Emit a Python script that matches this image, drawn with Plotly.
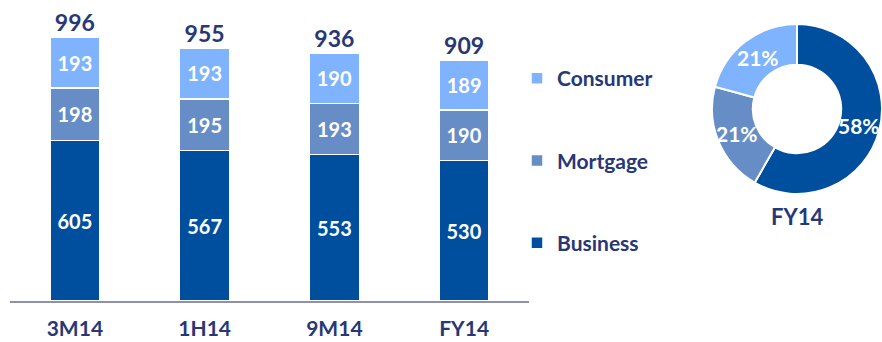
import math
import plotly.graph_objects as go

# Loan book by segment (EUR m)
periods = ["3M14", "1H14", "9M14", "FY14"]
business = [605, 567, 553, 530]
mortgage = [198, 195, 193, 190]
consumer = [193, 193, 190, 189]
totals = [996, 955, 936, 909]

segments = ["Business", "Mortgage", "Consumer"]
fy14_mix = [530, 190, 189]

C_BUSINESS = "#004F9E"
C_MORTGAGE = "#678DC6"
C_CONSUMER = "#7FB3FD"
NAVY = "#283775"
FONT = "Lato"

W, H = 882, 342

fig = go.Figure()

for rank, (name, vals, col) in enumerate([
    ("Business", business, C_BUSINESS),
    ("Mortgage", mortgage, C_MORTGAGE),
    ("Consumer", consumer, C_CONSUMER),
]):
    fig.add_trace(go.Bar(
        name=name, x=periods, y=vals,
        marker=dict(color=col, line=dict(color="white", width=1.5)),
        text=vals, textposition="inside", insidetextanchor="middle",
        textangle=0, constraintext="none",
        textfont=dict(family=FONT, size=20, color="white", weight=700),
        legendgroup=name, legendrank=1000 - rank,
    ))

# Totals above each stack
fig.add_trace(go.Scatter(
    x=periods, y=totals, mode="text", text=totals,
    textposition="top center",
    textfont=dict(family=FONT, size=23, color=NAVY, weight=700),
    showlegend=False, hoverinfo="skip",
))

# FY14 mix donut (pixel box of the pie domain)
PIE_X0, PIE_X1, PIE_Y0, PIE_Y1 = 712, 882, 24, 194
HOLE = 0.52
fig.add_trace(go.Pie(
    labels=segments, values=fy14_mix, hole=HOLE, sort=False,
    direction="clockwise", rotation=0,
    marker=dict(colors=[C_BUSINESS, C_MORTGAGE, C_CONSUMER],
                line=dict(color="white", width=2)),
    textinfo="none",
    domain=dict(x=[PIE_X0 / W, PIE_X1 / W], y=[1 - PIE_Y1 / H, 1 - PIE_Y0 / H]),
    showlegend=False,
))

# Percentage labels at mid-ring on each slice's bisector
cx, cy = (PIE_X0 + PIE_X1) / 2, (PIE_Y0 + PIE_Y1) / 2
r_out = min(PIE_X1 - PIE_X0, PIE_Y1 - PIE_Y0) / 2
r_mid = r_out * (1 + HOLE) / 2
total_mix = sum(fy14_mix)
acc = 0.0
for v in fy14_mix:
    frac = v / total_mix
    ang = 2 * math.pi * (acc + frac / 2)
    acc += frac
    px = cx + r_mid * math.sin(ang)
    py = cy - r_mid * math.cos(ang)
    fig.add_annotation(
        text=f"{round(frac * 100)}%", x=px / W, y=1 - py / H,
        xref="paper", yref="paper", showarrow=False,
        xanchor="center", yanchor="middle",
        font=dict(family=FONT, size=21, color="white", weight=700),
    )

fig.add_annotation(
    text="FY14", x=cx / W, y=1 - 216 / H, xref="paper", yref="paper",
    showarrow=False, xanchor="center", yanchor="middle",
    font=dict(family=FONT, size=22, color=NAVY, weight=700),
)

fig.update_layout(
    width=W, height=H,
    margin=dict(l=0, r=0, t=0, b=0),
    paper_bgcolor="white", plot_bgcolor="white",
    barmode="stack", bargap=0.615,
    font=dict(family=FONT, color=NAVY),
    xaxis=dict(domain=[10 / W, 529 / W], range=[-0.5, 3.5],
               automargin=False,
               showline=True, linecolor="#8E91A9", linewidth=2,
               showgrid=False, zeroline=False, ticks="",
               ticklabelstandoff=8,
               tickfont=dict(family=FONT, size=21, color=NAVY, weight=700)),
    yaxis=dict(domain=[(H - 301) / H, 1.0], range=[0, 996 * 301 / 264],
               visible=False, automargin=False),
    legend=dict(x=(538 - 21) / W, y=1 - 58 / H, xanchor="left", yanchor="top",
                traceorder="grouped", tracegroupgap=52,
                font=dict(family=FONT, size=21, color=NAVY, weight=700),
                bgcolor="rgba(0,0,0,0)"),
    showlegend=True,
)

fig.write_html("out.html")
